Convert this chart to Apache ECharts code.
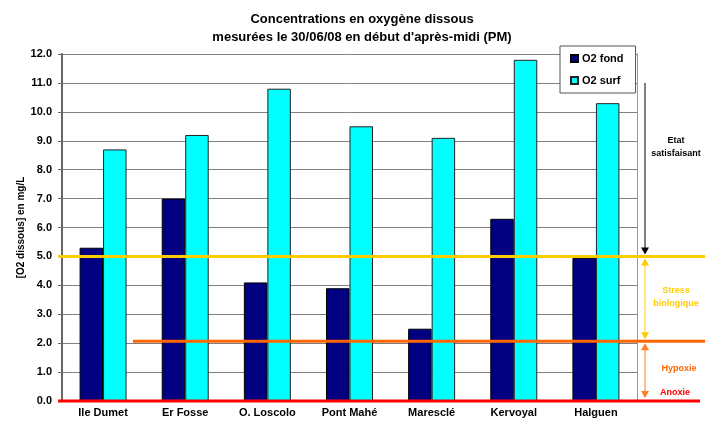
<!DOCTYPE html>
<html>
<head>
<meta charset="utf-8">
<script src="https://cdn.jsdelivr.net/npm/echarts@6/dist/echarts.min.js"></script>
<style>
  html, body { margin: 0; padding: 0; background: #ffffff; }
  #chart { width: 715px; height: 421px; }
</style>
</head>
<body>
<div id="chart"></div>
<script>
// Sampling stations and dissolved oxygen readings (mg/L)
const categories = ['Ile Dumet', 'Er Fosse', 'O. Loscolo', 'Pont Mahé', 'Maresclé', 'Kervoyal', 'Halguen'];
const o2Fond = [5.3, 7.0, 4.1, 3.9, 2.5, 6.3, 4.95];
const o2Surf = [8.7, 9.2, 10.8, 9.5, 9.1, 11.8, 10.3];

// Value axis range
const yMin = 0;
const yMax = 12;
const yStep = 1;

// Oxygen status thresholds (mg/L)
const seuilSatisfaisant = 5;
const seuilHypoxie = 2.07;
const seuilAnoxie = 0;
const hautEtat = 11;

const FONT = 'Liberation Sans, Arial, sans-serif';
const chart = echarts.init(document.getElementById('chart'), null, { renderer: 'canvas' });

chart.setOption({
  animation: false,
  backgroundColor: '#ffffff',
  title: {
    text: 'Concentrations en oxygène dissous\nmesurées le 30/06/08 en début d\'après-midi (PM)',
    left: 357,
    textAlign: 'center',
    top: 5,
    textStyle: { fontFamily: FONT, fontSize: 13, fontWeight: 'bold', color: '#000', lineHeight: 18 }
  },
  legend: {
    orient: 'vertical',
    left: 560,
    top: 46,
    padding: [7, 12, 7, 10],
    itemGap: 11,
    itemWidth: 7,
    itemHeight: 7,
    icon: 'rect',
    backgroundColor: '#ffffff',
    borderColor: '#555',
    borderWidth: 1,
    textStyle: { fontFamily: FONT, fontSize: 11, fontWeight: 'bold', color: '#000', padding: [0, 0, 0, -1] },
    data: ['O2 fond', 'O2 surf']
  },
  grid: { left: 62, right: 78, top: 54, bottom: 20, containLabel: false },
  xAxis: {
    type: 'category',
    data: categories,
    axisLine: { show: true, lineStyle: { color: '#808080', width: 1 } },
    axisTick: { show: false },
    axisLabel: { fontFamily: FONT, fontSize: 11, fontWeight: 'bold', color: '#000', margin: 6, interval: 0 }
  },
  yAxis: [{
    type: 'value',
    min: yMin, max: yMax, interval: yStep,
    name: '[O2 dissous] en mg/L',
    nameLocation: 'middle',
    nameRotate: 90,
    nameGap: 36,
    nameMoveOverlap: false,
    nameTextStyle: { fontFamily: FONT, fontSize: 10, fontWeight: 'bold', color: '#000' },
    axisLine: { show: true, lineStyle: { color: '#666', width: 2 } },
    axisTick: { show: true, length: 4, lineStyle: { color: '#666', width: 1 } },
    axisLabel: {
      fontFamily: FONT, fontSize: 11, fontWeight: 'bold', color: '#000', margin: 10,
      formatter: v => v.toFixed(1)
    },
    splitLine: { show: true, lineStyle: { color: '#808080', width: 1 } }
  }, {
    type: 'value',
    position: 'right',
    min: yMin, max: yMax, interval: yStep,
    axisLine: { show: true, lineStyle: { color: '#999', width: 1 } },
    axisTick: { show: false },
    axisLabel: { show: false },
    splitLine: { show: false }
  }],
  series: [{
    name: 'O2 fond',
    type: 'bar',
    data: o2Fond,
    barWidth: '28.6%',
    barGap: '0%',
    itemStyle: { color: '#000080', borderColor: '#000', borderWidth: 1 }
  }, {
    name: 'O2 surf',
    type: 'bar',
    data: o2Surf,
    barWidth: '28.6%',
    barGap: '0%',
    itemStyle: { color: '#00FFFF', borderColor: '#222', borderWidth: 1 }
  }]
});

// Threshold lines and status annotations on the right
const py = v => chart.convertToPixel({ yAxisIndex: 0 }, v);
const ySat = py(seuilSatisfaisant);
const yHyp = py(seuilHypoxie);
const yAno = py(seuilAnoxie);
const yTop = py(hautEtat);
const ax = 645;

function hLine(x1, x2, y, color) {
  return { type: 'line', z: 20, shape: { x1, y1: y, x2, y2: y }, style: { stroke: color, lineWidth: 3 } };
}
function vLine(y1, y2, color) {
  return { type: 'line', z: 20, shape: { x1: ax, y1, x2: ax, y2 }, style: { stroke: color, lineWidth: 1 } };
}
function headDown(tip, color) {
  return { type: 'polygon', z: 21, shape: { points: [[ax - 4, tip - 7], [ax + 4, tip - 7], [ax, tip]] }, style: { fill: color } };
}
function headUp(tip, color) {
  return { type: 'polygon', z: 21, shape: { points: [[ax - 4, tip + 7], [ax + 4, tip + 7], [ax, tip]] }, style: { fill: color } };
}
function label(x, y, text, color, size) {
  return {
    type: 'text', z: 22, x, y,
    style: { text, fill: color, font: 'bold ' + size + 'px ' + FONT, align: 'center', verticalAlign: 'middle', lineHeight: 13 }
  };
}

const YEL = '#FFCC00', ORA = '#FF6600', RED = '#FF0000';

chart.setOption({
  graphic: [
    hLine(58, 705, ySat, YEL),
    hLine(133, 705, yHyp, ORA),
    hLine(58, 700, yAno, RED),
    vLine(yTop, ySat - 4, '#000'),
    headDown(ySat - 2, '#000'),
    vLine(ySat + 4, yHyp - 4, YEL),
    headUp(ySat + 2, YEL),
    headDown(yHyp - 2, YEL),
    vLine(yHyp + 4, yAno - 4, '#FF7F27'),
    headUp(yHyp + 2, '#FF7F27'),
    headDown(yAno - 3, '#FF7F27'),
    label(676, (yTop + ySat) / 2 - 23, 'Etat\nsatisfaisant', '#000', 9),
    label(676, (ySat + yHyp) / 2 - 2, 'Stress\nbiologique', YEL, 9),
    label(679, yAno - 32, 'Hypoxie', ORA, 9),
    label(675, yAno - 8, 'Anoxie', RED, 9)
  ]
});
</script>
</body>
</html>
